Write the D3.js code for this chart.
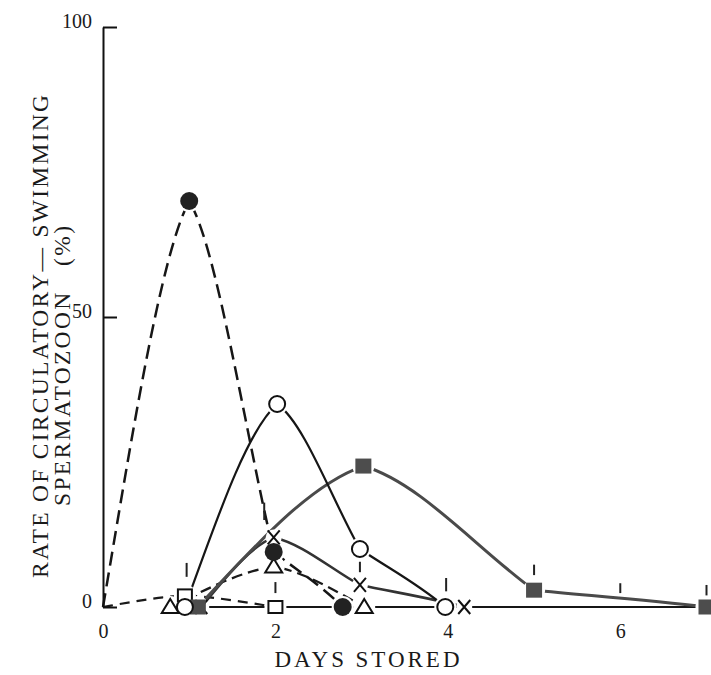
<!DOCTYPE html>
<html>
<head>
<meta charset="utf-8">
<script src="https://cdn.jsdelivr.net/npm/d3@7"></script>
<style>
  html, body { margin: 0; padding: 0; background: #fff; }
  svg { display: block; }
  text { font-family: "Liberation Serif", "DejaVu Serif", serif; fill: #1a1a1a; }
</style>
</head>
<body>
<svg id="chart" width="711" height="675"></svg>
<script>
// Days stored and rate (%) of circulatory-swimming spermatozoa, one pair of arrays per group
const filledCircleDays  = [0, 1.0, 1.98, 2.78];
const filledCircleRates = [0, 70, 9.5, 0];

const openCircleDays  = [0.95, 2.02, 2.98, 3.97];
const openCircleRates = [0, 35, 10, 0];

const filledSquareDays  = [1.1, 3.02, 5.0, 7.0];
const filledSquareRates = [0, 24.3, 2.9, 0];

const crossDays  = [1.14, 1.98, 2.98, 4.19];
const crossRates = [0, 12, 3.8, 0];

const triangleDays  = [0.78, 1.98, 3.03];
const triangleRates = [0, 7, 0];

const openSquareDays  = [0, 0.95, 2.0];
const openSquareRates = [0, 2, 0];

// groups that stay at zero from day 1 onward
const zeroDays  = [1.14, 7.0];
const zeroRates = [0, 0];

// short vertical range marks
const rangeDays  = [0.97, 1.87, 2.0, 2.98, 3.98, 5.0, 6.0, 7.0];
const rangeLows  = [5.2, 15, 2.4, 6.0, 2.7, 5.5, 2.4, 2.0];
const rangeHighs = [7.6, 18, 4.3, 7.8, 5.0, 7.3, 4.1, 3.8];

const yTicks = [0, 50, 100];
const xTicks = [0, 2, 4, 6];
const xTitle = "DAYS STORED";
const yTitle1 = "RATE OF CIRCULATORY\u2014 SWIMMING";
const yTitle2 = "SPERMATOZOON   (%)";

const svg = d3.select("#chart");
const x = d3.scaleLinear().domain([0, 7]).range([103, 706.5]);
const y = d3.scaleLinear().domain([0, 100]).range([607, 27]);

const zip = (days, rates) => days.map((d, i) => ({ day: d, rate: rates[i] }));

// Hand-drawn style curve: pointed peaks with bowed sides, corners elsewhere.
function peakCurve(context) {
  const PEAK = 0.4, END = 1.25;
  let pts = [];
  return {
    areaStart() {}, areaEnd() {},
    lineStart() { pts = []; },
    point(px, py) { pts.push([+px, +py]); },
    lineEnd() {
      const n = pts.length;
      if (!n) return;
      context.moveTo(pts[0][0], pts[0][1]);
      if (n === 1) return;
      const tin = [], tout = [];
      for (let i = 0; i < n; i++) {
        const a = i > 0 ? [pts[i][0] - pts[i - 1][0], pts[i][1] - pts[i - 1][1]] : null;
        const b = i < n - 1 ? [pts[i + 1][0] - pts[i][0], pts[i + 1][1] - pts[i][1]] : null;
        if (!a) { tout[i] = [b[0], b[1] * END]; continue; }
        if (!b) { tin[i] = [a[0], a[1] * END]; continue; }
        if (a[1] * b[1] < 0) {
          tin[i] = [a[0], a[1] * PEAK];
          tout[i] = [b[0], b[1] * PEAK];
        } else {
          tin[i] = a; tout[i] = b;
        }
      }
      for (let i = 0; i < n - 1; i++) {
        const p = pts[i], q = pts[i + 1];
        context.bezierCurveTo(
          p[0] + tout[i][0] / 3, p[1] + tout[i][1] / 3,
          q[0] - tin[i + 1][0] / 3, q[1] - tin[i + 1][1] / 3,
          q[0], q[1]);
      }
    }
  };
}

const series = [
  { key: "zero", pts: zip(zeroDays, zeroRates), stroke: "#161616", width: 2, dash: null, marker: null },
  { key: "openSquare", pts: zip(openSquareDays, openSquareRates), stroke: "#1a1a1a", width: 2.2, dash: "10,7", marker: "openSquare" },
  { key: "triangle", pts: zip(triangleDays, triangleRates), stroke: "#1a1a1a", width: 2.3, dash: "11,6", marker: "triangle" },
  { key: "cross", pts: zip(crossDays, crossRates), stroke: "#333", width: 2.6, dash: null, marker: "cross" },
  { key: "filledSquare", pts: zip(filledSquareDays, filledSquareRates), stroke: "#4a4a4a", width: 3, dash: null, marker: "filledSquare" },
  { key: "openCircle", pts: zip(openCircleDays, openCircleRates), stroke: "#161616", width: 2.2, dash: null, marker: "openCircle" },
  { key: "filledCircle", pts: zip(filledCircleDays, filledCircleRates), stroke: "#161616", width: 2.5, dash: "14,7", marker: "filledCircle" }
];

const line = d3.line()
  .x(d => x(d.day))
  .y(d => y(d.rate))
  .curve(peakCurve);

// curves
svg.append("g").selectAll("path")
  .data(series)
  .join("path")
  .attr("d", s => line(s.pts))
  .attr("fill", "none")
  .attr("stroke", s => s.stroke)
  .attr("stroke-width", s => s.width)
  .attr("stroke-dasharray", s => s.dash)
  .attr("stroke-linecap", "butt");

// markers (origin points carry no symbol)
const markerPts = [];
series.forEach(s => {
  if (!s.marker) return;
  s.pts.forEach(p => { if (p.day > 0) markerPts.push({ ...p, type: s.marker }); });
});

const halo = svg.append("g");
markerPts.forEach(p => {
  halo.append("circle")
    .attr("cx", x(p.day)).attr("cy", y(p.rate))
    .attr("r", p.type === "cross" ? 8 : 11)
    .attr("fill", "#fff");
});

const mk = svg.append("g");
markerPts.forEach(p => {
  const cx = x(p.day), cy = y(p.rate);
  switch (p.type) {
    case "filledCircle":
      mk.append("circle").attr("cx", cx).attr("cy", cy).attr("r", 9).attr("fill", "#222");
      break;
    case "openCircle":
      mk.append("circle").attr("cx", cx).attr("cy", cy).attr("r", 8)
        .attr("fill", "#fff").attr("stroke", "#111").attr("stroke-width", 2);
      break;
    case "filledSquare":
      mk.append("rect").attr("x", cx - 8).attr("y", cy - 7.5).attr("width", 16).attr("height", 15).attr("fill", "#4d4d4d");
      break;
    case "openSquare":
      mk.append("rect").attr("x", cx - 7).attr("y", cy - 6).attr("width", 14).attr("height", 12)
        .attr("fill", "#fff").attr("stroke", "#111").attr("stroke-width", 2);
      break;
    case "triangle":
      mk.append("path").attr("d", `M${cx},${cy - 8}L${cx + 8.5},${cy + 6}L${cx - 8.5},${cy + 6}Z`)
        .attr("fill", "#fff").attr("stroke", "#111").attr("stroke-width", 2).attr("stroke-linejoin", "miter");
      break;
    case "cross":
      mk.append("path").attr("d", `M${cx - 6},${cy - 7}L${cx + 6},${cy + 7}M${cx + 6},${cy - 7}L${cx - 6},${cy + 7}`)
        .attr("stroke", "#111").attr("stroke-width", 2).attr("fill", "none");
      break;
  }
});

// range marks
svg.append("g").selectAll("line")
  .data(rangeDays.map((d, i) => ({ day: d, lo: rangeLows[i], hi: rangeHighs[i] })))
  .join("line")
  .attr("x1", d => x(d.day)).attr("x2", d => x(d.day))
  .attr("y1", d => y(d.lo)).attr("y2", d => y(d.hi))
  .attr("stroke", "#222").attr("stroke-width", 2);

// y axis: ticks point inward
const yAxis = svg.append("g")
  .attr("transform", `translate(${x(0)},0)`)
  .call(d3.axisLeft(y).tickValues(yTicks).tickFormat(d3.format("d"))
    .tickSize(-14).tickSizeOuter(0).tickPadding(11));
yAxis.select(".domain").attr("stroke", "#111").attr("stroke-width", 2);
yAxis.selectAll(".tick line").attr("stroke", "#111").attr("stroke-width", 2);
yAxis.selectAll(".tick text")
  .attr("font-size", 20).attr("dy", "0em")
  .style("font-family", "'Liberation Serif', serif").attr("fill", "#1a1a1a");

// x axis: labels only
const xAxis = svg.append("g")
  .attr("transform", `translate(0,${y(0)})`)
  .call(d3.axisBottom(x).tickValues(xTicks).tickFormat(d3.format("d"))
    .tickSize(0).tickPadding(17));
xAxis.select(".domain").remove();
xAxis.selectAll(".tick text")
  .attr("font-size", 20)
  .style("font-family", "'Liberation Serif', serif").attr("fill", "#1a1a1a");

// titles
svg.append("text")
  .attr("x", 367).attr("y", 667)
  .attr("text-anchor", "middle")
  .attr("font-size", 23)
  .attr("textLength", 185).attr("lengthAdjust", "spacing")
  .text(xTitle);

svg.append("text")
  .attr("transform", "translate(48,336.5) rotate(-90)")
  .attr("text-anchor", "middle")
  .attr("font-size", 23.5)
  .attr("textLength", 483).attr("lengthAdjust", "spacing")
  .style("white-space", "pre")
  .text(yTitle1);

svg.append("text")
  .attr("transform", "translate(70,366) rotate(-90)")
  .attr("text-anchor", "middle")
  .attr("font-size", 23.5)
  .attr("textLength", 280).attr("lengthAdjust", "spacing")
  .style("white-space", "pre")
  .text(yTitle2);
</script>
</body>
</html>
